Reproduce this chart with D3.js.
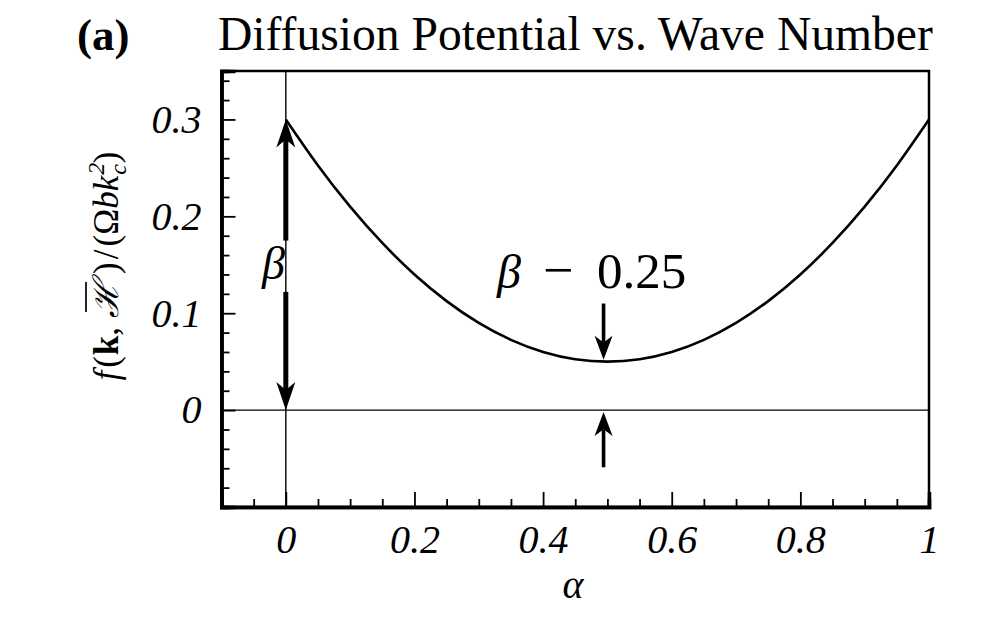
<!DOCTYPE html>
<html>
<head>
<meta charset="utf-8">
<script src="https://cdn.jsdelivr.net/npm/d3@7"></script>
<style>
  body { margin: 0; background: #fff; }
  svg { display: block; }
  text { font-family: "Liberation Serif", "Times New Roman", serif; fill: #000; }
</style>
</head>
<body>
<svg id="chart" width="984" height="619"></svg>
<script>
"use strict"

// values
let alphaVals = [0, 0.05, 0.1, 0.15, 0.2, 0.25, 0.3, 0.35, 0.4, 0.45, 0.5,
                 0.55, 0.6, 0.65, 0.7, 0.75, 0.8, 0.85, 0.9, 0.95, 1]
let fVals = [0.3, 0.2525, 0.21, 0.1725, 0.14, 0.1125, 0.09, 0.0725, 0.06, 0.0525, 0.05,
             0.0525, 0.06, 0.0725, 0.09, 0.1125, 0.14, 0.1725, 0.21, 0.2525, 0.3]

let xTicks = [0, 0.2, 0.4, 0.6, 0.8, 1]
let xTickLabels = ["0", "0.2", "0.4", "0.6", "0.8", "1"]
let yTicks = [0, 0.1, 0.2, 0.3]
let yTickLabels = ["0", "0.1", "0.2", "0.3"]
let xMinor = [-0.05, 0.05, 0.1, 0.15, 0.25, 0.3, 0.35, 0.45, 0.5, 0.55, 0.65, 0.7, 0.75, 0.85, 0.9, 0.95]
let yMinor = [-0.08, -0.06, -0.04, -0.02, 0.02, 0.04, 0.06, 0.08, 0.12, 0.14, 0.16, 0.18,
              0.22, 0.24, 0.26, 0.28, 0.32, 0.34]

// arrows: [alpha, tail value, tip value]
let betaArrows = [[0, 0.175, 0.3], [0, 0.122, 0]]
let gapArrows = [[0.494, 0.11, 0.052], [0.494, -0.059, -0.002]]

let serif = "'Liberation Serif', 'Times New Roman', serif"
let svg = d3.select("#chart")
let plotL = 221.5, plotR = 929, plotT = 71, plotB = 507

let x = d3.scaleLinear().domain([-0.1, 1]).range([plotL, plotR])
let y = d3.scaleLinear().domain([-0.1, 0.35]).range([plotB, plotT])

// reference lines
svg.append("line")
    .attr("x1", x(0)).attr("x2", x(0)).attr("y1", plotT).attr("y2", plotB)
    .attr("stroke", "#000").attr("stroke-width", 1.4)
svg.append("line")
    .attr("x1", plotL).attr("x2", plotR).attr("y1", y(0)).attr("y2", y(0))
    .attr("stroke", "#000").attr("stroke-width", 1.4)

// frame
svg.append("rect")
    .attr("x", plotL).attr("y", plotT)
    .attr("width", plotR - plotL).attr("height", plotB - plotT)
    .attr("fill", "none").attr("stroke", "#000").attr("stroke-width", 2.5)

// minor ticks
let yMinorAxis = d3.axisLeft(y).tickValues(yMinor).tickSize(-8).tickFormat("")
svg.append("g").attr("transform", `translate(${plotL},0)`).call(yMinorAxis)
let xMinorAxis = d3.axisBottom(x).tickValues(xMinor).tickSize(-8).tickFormat("")
svg.append("g").attr("transform", `translate(0,${plotB})`).call(xMinorAxis)

// major ticks + labels
let yAxis = d3.axisLeft(y).tickValues(yTicks).tickSize(-14).tickPadding(20)
    .tickFormat((d, i) => yTickLabels[i])
let gy = svg.append("g").attr("transform", `translate(${plotL},0)`).call(yAxis)
let xAxis = d3.axisBottom(x).tickValues(xTicks).tickSize(-15).tickPadding(46)
    .tickFormat((d, i) => xTickLabels[i])
let gx = svg.append("g").attr("transform", `translate(0,${plotB})`).call(xAxis)

svg.selectAll("g").attr("font-family", serif)
svg.selectAll(".tick line").attr("stroke", "#000").attr("stroke-width", 1.8)
svg.selectAll(".domain").attr("stroke", "#000").attr("stroke-width", 3.5)
svg.selectAll(".tick text")
    .style("font-family", serif)
    .style("font-style", "italic")
    .style("font-size", "40px")
gx.selectAll(".tick text").attr("dy", "0")

// curve
let line = d3.line()
    .x((d, i) => x(alphaVals[i]))
    .y(d => y(d))
    .curve(d3.curveNatural)
svg.append("path").datum(fVals)
    .attr("d", line)
    .attr("fill", "none").attr("stroke", "#000").attr("stroke-width", 2.6)

function arrow(a, shaft, headW, headL) {
    let px = x(a[0]), y0 = y(a[1]), y1 = y(a[2])
    let dir = y1 > y0 ? -1 : 1
    let back = y1 + dir * headL
    let notch = y1 + dir * headL * 0.72
    svg.append("line")
        .attr("x1", px).attr("x2", px).attr("y1", y0).attr("y2", notch)
        .attr("stroke", "#000").attr("stroke-width", shaft)
    svg.append("path")
        .attr("d", `M${px},${y1} L${px - headW / 2},${back} L${px},${notch} L${px + headW / 2},${back} Z`)
        .attr("fill", "#000")
}
betaArrows.forEach(a => arrow(a, 5, 19, 28))
gapArrows.forEach(a => arrow(a, 3.6, 18, 24))

// annotations
svg.append("text")
    .attr("x", 262).attr("y", 279)
    .style("font-family", serif)
    .style("font-style", "italic").style("font-size", "46px")
    .text("β")
let gapLabel = svg.append("text")
    .attr("y", 288)
    .style("font-family", serif)
    .style("font-size", "48px")
gapLabel.append("tspan").attr("x", 497).style("font-family", serif).style("font-style", "italic").text("β")
gapLabel.append("tspan").attr("x", 543).style("font-family", serif).style("font-size", "54px").text("−")
gapLabel.append("tspan").attr("x", 597).style("font-family", serif).style("font-size", "51px").text("0.25")

// titles
svg.append("text")
    .attr("x", 77).attr("y", 50)
    .style("font-weight", "bold").style("font-size", "45px")
    .text("(a)")
svg.append("text")
    .attr("x", 218).attr("y", 50)
    .style("font-size", "47.6px")
    .text("Diffusion Potential vs. Wave Number")

svg.append("text")
    .attr("x", 573).attr("y", 598)
    .attr("text-anchor", "middle")
    .style("font-family", serif)
    .style("font-style", "italic").style("font-size", "40px")
    .text("α")

// y label, rotated and centred on the axis middle
let ylg = svg.append("g")
let yl = ylg.append("text")
    .attr("x", 0).attr("y", 0)
    .style("font-family", serif)
    .style("font-size", "35px")
yl.append("tspan").style("font-style", "italic").text("f")
yl.append("tspan").attr("dx", 3).text("(")
yl.append("tspan").attr("dx", 1).style("font-weight", "bold").text("k")
yl.append("tspan").text(",")
let hSpan = yl.append("tspan").attr("dx", 9).style("font-style", "italic").text("ℋ")
yl.append("tspan").attr("dx", 7).text(")")
yl.append("tspan").attr("dx", 3).text("/")
yl.append("tspan").attr("dx", 3).text("(Ω")
yl.append("tspan").style("font-style", "italic").text("bk")
yl.append("tspan").style("font-style", "italic").style("font-size", "24px").attr("dx", 1).attr("dy", -14).text("2")
yl.append("tspan").style("font-style", "italic").style("font-size", "24px").attr("dx", -12).attr("dy", 22).text("c")
yl.append("tspan").attr("dx", 1).attr("dy", -8).text(")")

let hNode = hSpan.node()
let hStart = hNode.getStartPositionOfChar(0).x
let hWidth = hNode.getComputedTextLength()
ylg.append("line")
    .attr("x1", hStart + 6).attr("x2", hStart + hWidth - 1)
    .attr("y1", -32).attr("y2", -32)
    .attr("stroke", "#000").attr("stroke-width", 1.7)
let total = yl.node().getComputedTextLength()
ylg.attr("transform", `translate(118,${274 + total / 2}) rotate(-90)`)
</script>
</body>
</html>
